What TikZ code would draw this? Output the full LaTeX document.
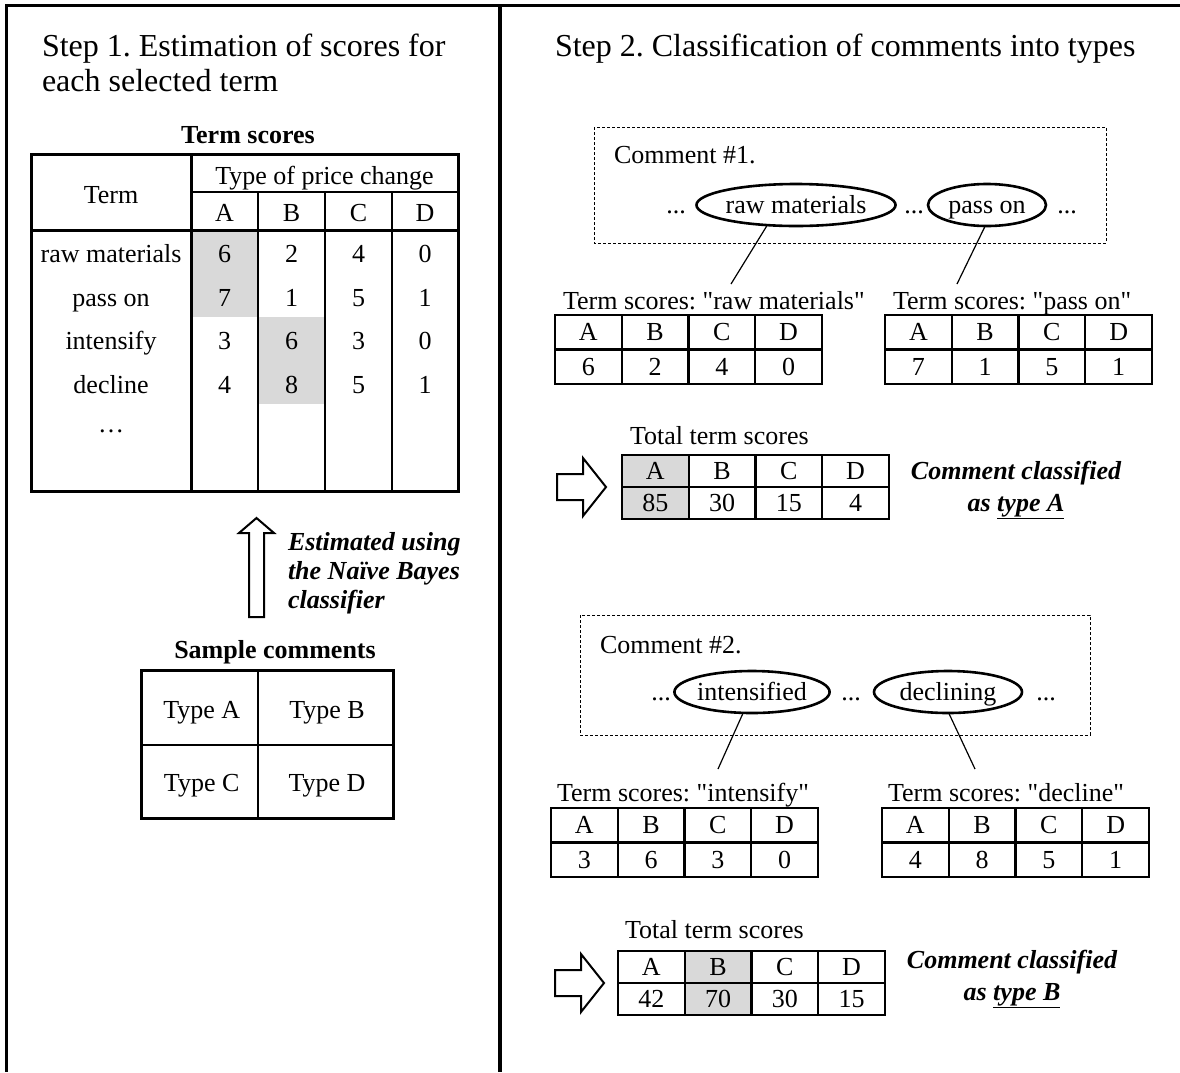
\documentclass[tikz,border=0pt]{standalone}
\usepackage{fontspec}
\setmainfont{Liberation Serif}[Ligatures=TeXOff]
\usetikzlibrary{shapes.geometric}
\definecolor{shd}{HTML}{D9D9D9}
\frenchspacing
\tikzset{
  every node/.style={inner sep=0pt, outer sep=0pt},
  head/.style={font=\fontsize{32}{35}\selectfont, anchor=base west},
  txt/.style={font=\fontsize{26}{29}\selectfont},
  cell/.style={txt, text height=17pt, text depth=0pt, anchor=center},
  btxt/.style={font=\fontsize{26}{29}\selectfont\bfseries},
  bitxt/.style={font=\fontsize{26}{29}\selectfont\bfseries\itshape},
  frame/.style={line width=3.2pt},
  outerline/.style={line width=3pt},
  innerline/.style={line width=2.2pt},
  tabline/.style={line width=2.2pt},
  ell/.style={ellipse, draw, line width=2.6pt, txt, text height=17pt, text depth=0pt},
  dashbox/.style={line width=1pt, dash pattern=on 3pt off 2pt},
  thinline/.style={line width=1.2pt},
  blockarrow/.style={line width=2pt, fill=white, line join=miter},
}
\newcommand{\scoretab}[6]{%
  \begin{scope}[shift={(#2,#3)}]
    \ifnum#5>0 \fill[shd] ({(#5-1)*66.75},0) rectangle ++(66.75,{2*#6});\fi
    \foreach \c [count=\i] in {A,B,C,D}
      \node[cell] (#1-h\i) at ({(\i-0.5)*66.75},{0.5*#6}) {\c};
    \foreach \v [count=\i] in {#4}
      \node[cell] (#1-v\i) at ({(\i-0.5)*66.75},{1.5*#6}) {\v};
    \draw[tabline] (0,#6) -- (267,#6);
    \foreach \i in {1,2,3}
      \draw[tabline] ({\i*66.75},0) -- ({\i*66.75},{2*#6});
    \draw[tabline] (0,0) rectangle (267,{2*#6});
  \end{scope}}
\begin{document}
\begin{tikzpicture}[x=1pt,y=-1pt]
\useasboundingbox (0,0) rectangle (1180,1072);
% frame
\draw[frame] (5.2,5.5) -- (1180,5.5);
\draw[frame] (6.7,4) -- (6.7,1072);
\draw[frame] (500,5.5) -- (500,1072);

% ---------- Step 1 ----------
\node[head] (h1a) at (42,56.7) {Step 1. Estimation of scores for};
\node[head] (h1b) at (42,91.7) {each selected term};

\node[btxt, anchor=base] (tstitle) at (248,143) {Term scores};
\fill[shd] (191,230) rectangle (258,317);
\fill[shd] (258,317) rectangle (325,404);
\node[cell] (tt-term) at (111,195) {Term};
\node[cell] (tt-type) at (324.5,176) {Type of price change};
\foreach \c/\x [count=\i] in {A/224.5,B/291.5,C/358.5,D/425}
  \node[cell] (tt-h\i) at (\x,213) {\c};
\foreach \t/\a/\b/\c/\d [count=\i] in {raw materials/6/2/4/0,pass on/7/1/5/1,intensify/3/6/3/0,decline/4/8/5/1}{
  \pgfmathsetmacro\yy{254+43.5*(\i-1)}
  \node[cell] (tt-\i-0) at (111,\yy) {\t};
  \node[cell] (tt-\i-1) at (224.5,\yy) {\a};
  \node[cell] (tt-\i-2) at (291.5,\yy) {\b};
  \node[cell] (tt-\i-3) at (358.5,\yy) {\c};
  \node[cell] (tt-\i-4) at (425,\yy) {\d};
}
\node[txt, anchor=base] (tt-dots) at (111,432) {\ldots};
\draw[innerline] (191,192) -- (458,192);
\draw[outerline] (31,230) -- (458,230);
\draw[outerline] (191,154) -- (191,491);
\foreach \x in {258,325,392} \draw[innerline] (\x,192) -- (\x,491);
\draw[outerline] (31,154) rectangle (458,491);

% up arrow
\draw[blockarrow] (249,617) -- (249,533) -- (239,533) -- (256.5,518) -- (274,533) -- (264,533) -- (264,617) -- cycle;
\node[bitxt, anchor=base west] (est1) at (288,550) {Estimated using};
\node[bitxt, anchor=base west] (est2) at (288,579) {the Naïve Bayes};
\node[bitxt, anchor=base west] (est3) at (288,608) {classifier};

% sample comments
\node[btxt, anchor=base] (sctitle) at (275,658) {Sample comments};
\node[cell] (sA) at (201.7,710) {Type A};
\node[cell] (sB) at (327,710) {Type B};
\node[cell] (sC) at (201.7,783) {Type C};
\node[cell] (sD) at (327,783) {Type D};
\draw[innerline] (258,670) -- (258,818);
\draw[innerline] (141,745) -- (393,745);
\draw[outerline] (141,670) rectangle (393,818);

% ---------- Step 2 ----------
\node[head] (h2) at (555,56.7) {Step 2. Classification of comments into types};

% comment 1
\draw[dashbox] (594,127) rectangle (1106,243);
\node[txt, anchor=base west] (c1) at (614,163.5) {Comment \#1.};
\node[ell, minimum width=195, minimum height=42] (e1) at (796,205) {raw materials};
\node[ell, minimum width=118, minimum height=42] (e2) at (987,205) {pass on};
\node[txt, anchor=base] (d1) at (676,213.5) {...};
\node[txt, anchor=base] (d2) at (914,213.5) {...};
\node[txt, anchor=base] (d3) at (1067,213.5) {...};
\coordinate (k1) at (731,284);
\coordinate (k2) at (957,284);
\draw[thinline] (e1.215) -- (k1);
\draw[thinline] (e2.265) -- (k2);
\node[txt, anchor=base west] (l1) at (563,309) {Term scores: "raw materials"};
\node[txt, anchor=base west] (l2) at (893,309) {Term scores: "pass on"};
\scoretab{t1}{555}{315}{6,2,4,0}{0}{34.5}
\scoretab{t2}{885}{315}{7,1,5,1}{0}{34.5}

\node[txt, anchor=base west] (tot1) at (630,444.5) {Total term scores};
\draw[blockarrow] (557,474) -- (583,474) -- (583,458) -- (606,487) -- (583,516) -- (583,500) -- (557,500) -- cycle;
\scoretab{s1}{622}{455}{85,30,15,4}{1}{32}
\node[bitxt, anchor=base] (r1a) at (1016,479.5) {Comment classified};
\node[bitxt, anchor=base] (r1b) at (1016,511.5) {as \underline{type A}};

% comment 2
\draw[dashbox] (580,615) rectangle (1090,735);
\node[txt, anchor=base west] (c2) at (600,653.5) {Comment \#2.};
\node[ell, minimum width=150, minimum height=42] (e3) at (752,692) {intensified};
\node[ell, minimum width=148, minimum height=42] (e4) at (948,692) {declining};
\node[txt, anchor=base] (d4) at (661,700.5) {...};
\node[txt, anchor=base] (d5) at (851,700.5) {...};
\node[txt, anchor=base] (d6) at (1046,700.5) {...};
\coordinate (k3) at (718,769);
\coordinate (k4) at (975,769);
\draw[thinline] (e3.247) -- (k3);
\draw[thinline] (e4.272) -- (k4);
\node[txt, anchor=base west] (l3) at (557,801) {Term scores: "intensify"};
\node[txt, anchor=base west] (l4) at (888,801) {Term scores: "decline"};
\scoretab{t3}{551}{808}{3,6,3,0}{0}{34.5}
\scoretab{t4}{882}{808}{4,8,5,1}{0}{34.5}

\node[txt, anchor=base west] (tot2) at (625,938.5) {Total term scores};
\draw[blockarrow] (555,970) -- (581,970) -- (581,954) -- (604,983) -- (581,1012) -- (581,996) -- (555,996) -- cycle;
\scoretab{s2}{618}{951}{42,70,30,15}{2}{32}
\node[bitxt, anchor=base] (r2a) at (1012,968.5) {Comment classified};
\node[bitxt, anchor=base] (r2b) at (1012,1000.5) {as \underline{type B}};
\end{tikzpicture}
\end{document}
